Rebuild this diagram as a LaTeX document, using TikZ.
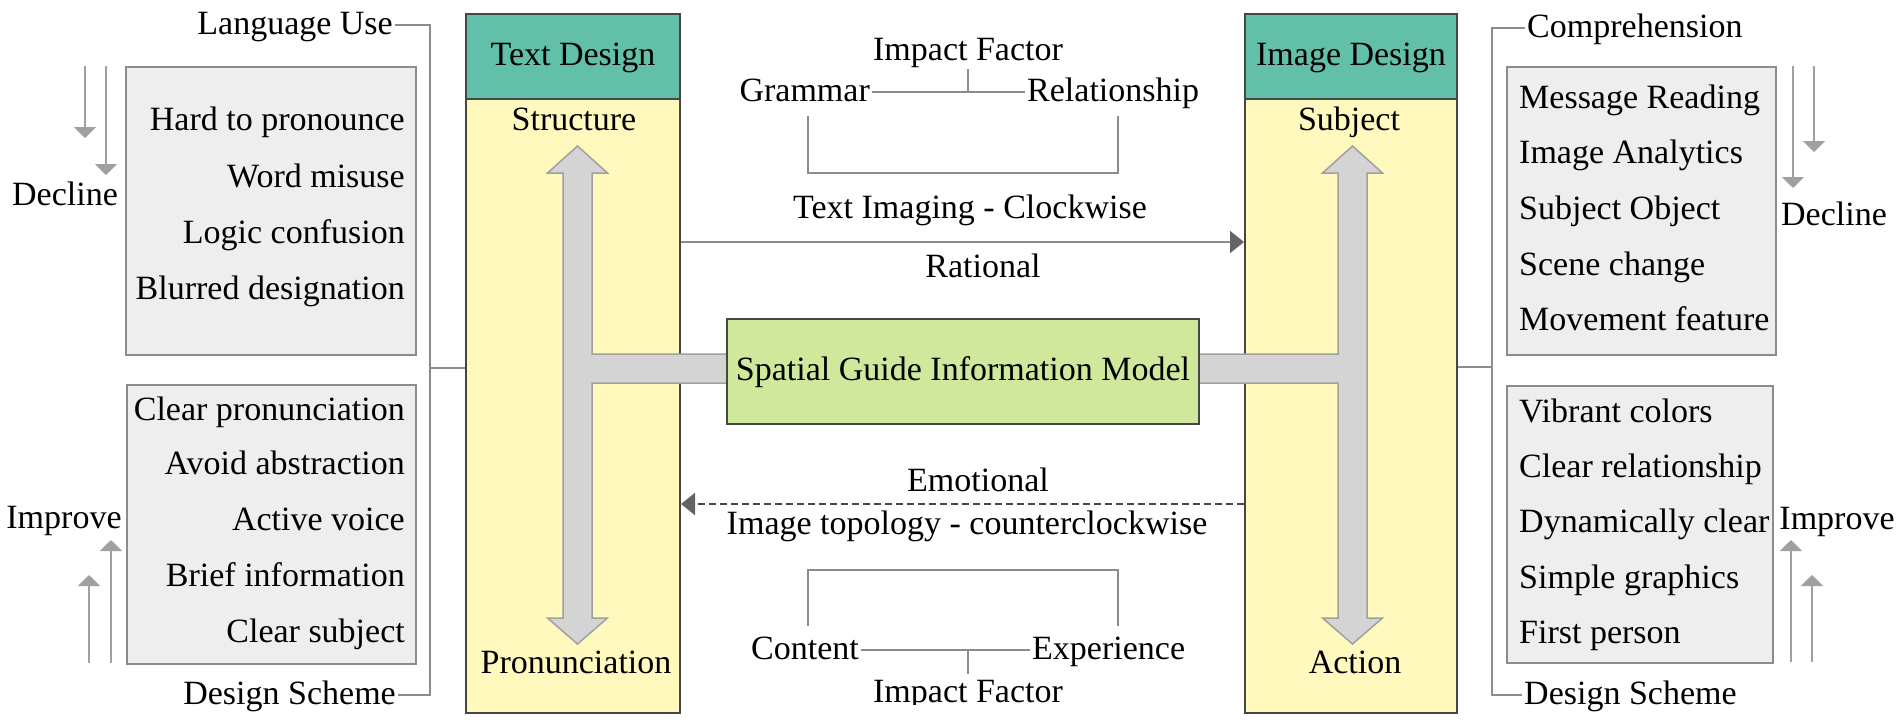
\documentclass[tikz,border=0pt]{standalone}
\usepackage{fontspec}
\setmainfont{Liberation Serif}
\usetikzlibrary{arrows.meta}
\definecolor{teal1}{RGB}{98,191,168}
\definecolor{yel}{RGB}{255,249,190}
\definecolor{boxg}{RGB}{238,238,238}
\definecolor{boxb}{RGB}{140,140,140}
\definecolor{grn}{RGB}{207,232,155}
\definecolor{barg}{RGB}{212,212,212}
\definecolor{bard}{RGB}{160,160,160}
\definecolor{lineg}{RGB}{140,140,140}
\definecolor{arrg}{RGB}{100,100,100}
\definecolor{coldark}{RGB}{70,70,70}
\begin{document}
\begin{tikzpicture}[x=1pt,y=-1pt,
  every node/.style={font=\fontsize{34}{40}\selectfont, inner sep=2pt, text height=25.5pt, text depth=6.8pt},
  lbl/.style={},
  hdr/.style={draw=coldark, line width=2pt, fill=teal1, minimum width=214pt, minimum height=85pt, anchor=north west},
  colbody/.style={draw=coldark, line width=2pt, fill=yel, minimum width=214pt, minimum height=614pt, anchor=north west},
  gbox/.style={draw=boxb, line width=2pt, fill=boxg, anchor=north west},
  gnode/.style={draw=coldark, line width=2pt, fill=grn, minimum width=472pt, minimum height=105pt, anchor=north west},
  brk/.style={draw=lineg, line width=1.8pt},
  tbar/.style={draw=bard, line width=1.5pt, fill=barg},
  sidearr/.style={draw=bard, line width=2pt, -{Triangle[width=22pt,length=11pt]}},
  flow/.style={draw=lineg, line width=2pt, -{Triangle[width=22pt,length=14pt,color=arrg]}},
  dflow/.style={draw=coldark, line width=1.8pt, dash pattern=on 7pt off 4pt, -{Triangle[width=22pt,length=14pt,color=arrg]}}
]
\useasboundingbox (0,0) rectangle (1902,724);
\fill[white] (0,0) rectangle (1902,724);

% columns
\node[colbody] (tdb) at (465,98) {};
\node[hdr] (tdh) at (465,13) {Text Design};
\node[colbody, minimum width=212pt] (idb) at (1244,98) {};
\node[hdr, minimum width=212pt] (idh) at (1244,13) {Image Design};

% T-shaped double arrows
\draw[tbar] (577.5,146) -- (607.5,173) -- (592,173) -- (592,354) -- (1338,354) -- (1338,173) -- (1322.5,173) -- (1352.5,146) -- (1382.5,173) -- (1367,173) -- (1367,618) -- (1382.5,618) -- (1352.5,644) -- (1322.5,618) -- (1338,618) -- (1338,383) -- (592,383) -- (592,618) -- (607.5,618) -- (577.5,644) -- (547.5,618) -- (563,618) -- (563,173) -- (547.5,173) -- cycle;

% central model
\node[gnode] (sgim) at (726,318) {Spatial Guide Information Model};

% column labels
\node[anchor=base] (struct) at (574,130) {Structure};
\node[anchor=base] (pron) at (576,673) {Pronunciation};
\node[anchor=base] (subj) at (1349,130) {Subject};
\node[anchor=base] (act) at (1355,673) {Action};

% left side
\node[gbox, minimum width=290pt, minimum height=288pt] (lb1) at (125,66) {};
\node[gbox, minimum width=289pt, minimum height=279pt] (lb2) at (126,384) {};
\node[anchor=base east] (l11) at (407,130) {Hard to pronounce};
\node[anchor=base east] (l12) at (407,187) {Word misuse};
\node[anchor=base east] (l13) at (407,243) {Logic confusion};
\node[anchor=base east] (l14) at (407,299) {Blurred designation};
\node[anchor=base east] (l21) at (407,420) {Clear pronunciation};
\node[anchor=base east] (l22) at (407,474) {Avoid abstraction};
\node[anchor=base east] (l23) at (407,530) {Active voice};
\node[anchor=base east] (l24) at (407,586) {Brief information};
\node[anchor=base east] (l25) at (407,642) {Clear subject};
\node[anchor=base] (decl) at (65,205) {Decline};
\node[anchor=base] (impl) at (64,528) {Improve};
\node[anchor=east] (lu) at (395,25) {Language Use};
\node[anchor=east] (dsl) at (398,695) {Design Scheme};
\coordinate (lbr) at (430,368);
\draw[brk] (lu.east) -| (lbr) |- (dsl.east);
\draw[brk] (lbr) -- (tdb.west |- lbr);

\coordinate (la1s) at (85,66);  \coordinate (la1e) at (85,138);
\coordinate (la2s) at (106,66); \coordinate (la2e) at (106,175);
\coordinate (la3s) at (89,663); \coordinate (la3e) at (89,575);
\coordinate (la4s) at (111,663);\coordinate (la4e) at (111,540);
\draw[sidearr] (la1s) -- (la1e);
\draw[sidearr] (la2s) -- (la2e);
\draw[sidearr] (la3s) -- (la3e);
\draw[sidearr] (la4s) -- (la4e);

% right side
\node[gbox, minimum width=269pt, minimum height=288pt] (rb1) at (1506,66) {};
\node[gbox, minimum width=266pt, minimum height=277pt] (rb2) at (1506,385) {};
\node[anchor=base west] (r11) at (1517,108) {Message Reading};
\node[anchor=base west] (r12) at (1517,163) {Image Analytics};
\node[anchor=base west] (r13) at (1517,219) {Subject Object};
\node[anchor=base west] (r14) at (1517,275) {Scene change};
\node[anchor=base west] (r15) at (1517,330) {Movement feature};
\node[anchor=base west] (r21) at (1517,422) {Vibrant colors};
\node[anchor=base west] (r22) at (1517,477) {Clear relationship};
\node[anchor=base west] (r23) at (1517,532) {Dynamically clear};
\node[anchor=base west] (r24) at (1517,588) {Simple graphics};
\node[anchor=base west] (r25) at (1517,643) {First person};
\node[anchor=base] (decr) at (1834,225) {Decline};
\node[anchor=base] (impr) at (1837,529) {Improve};
\node[anchor=west] (comp) at (1525,28) {Comprehension};
\node[anchor=west] (dsr) at (1522,695) {Design Scheme};
\coordinate (rbr) at (1492,367);
\draw[brk] (comp.west) -| (rbr) |- (dsr.west);
\draw[brk] (idb.east |- rbr) -- (rbr);

\coordinate (ra1s) at (1793,66);  \coordinate (ra1e) at (1793,188);
\coordinate (ra2s) at (1814,66);  \coordinate (ra2e) at (1814,152);
\coordinate (ra3s) at (1791,662); \coordinate (ra3e) at (1791,540);
\coordinate (ra4s) at (1812,662); \coordinate (ra4e) at (1812,575);
\draw[sidearr] (ra1s) -- (ra1e);
\draw[sidearr] (ra2s) -- (ra2e);
\draw[sidearr] (ra3s) -- (ra3e);
\draw[sidearr] (ra4s) -- (ra4e);

% top middle
\node[anchor=base] (impt) at (968,60) {Impact Factor};
\node[anchor=east] (gram) at (872,92) {Grammar};
\node[anchor=west] (rel) at (1025,92) {Relationship};
\draw[brk] (gram.east) -- (rel.west);
\draw[brk] (impt.south) -- (impt.south |- gram.east);
\coordinate (tb1) at (808,116);
\coordinate (tb2) at (1118,116);
\coordinate (tbb) at (960,173);
\draw[brk] (tb1) |- (tbb) -| (tb2);

\node[anchor=base] (tic) at (970,218) {Text Imaging - Clockwise};
\node[anchor=base] (rat) at (983,277) {Rational};
\coordinate (ry) at (0,242);
\draw[flow] (tdb.east |- ry) -- (idb.west |- ry);

% bottom middle
\node[anchor=base] (emo) at (978,491) {Emotional};
\node[anchor=base] (itc) at (967,534) {Image topology - counterclockwise};
\coordinate (ey) at (0,504);
\draw[dflow] (idb.west |- ey) -- (tdb.east |- ey);

\coordinate (bb1) at (808,626);
\coordinate (bb2) at (1118,626);
\coordinate (bbt) at (960,570);
\draw[brk] (bb1) |- (bbt) -| (bb2);
\node[anchor=east] (cont) at (861,650) {Content};
\node[anchor=west] (expe) at (1030,650) {Experience};
\draw[brk] (cont.east) -- (expe.west);
\begin{scope}
\clip (840,600) rectangle (1100,704);
\node[anchor=base] (impb) at (968,702) {Impact Factor};
\end{scope}
\draw[brk] (impb.north) -- (impb.north |- cont.east);
\end{tikzpicture}
\end{document}
